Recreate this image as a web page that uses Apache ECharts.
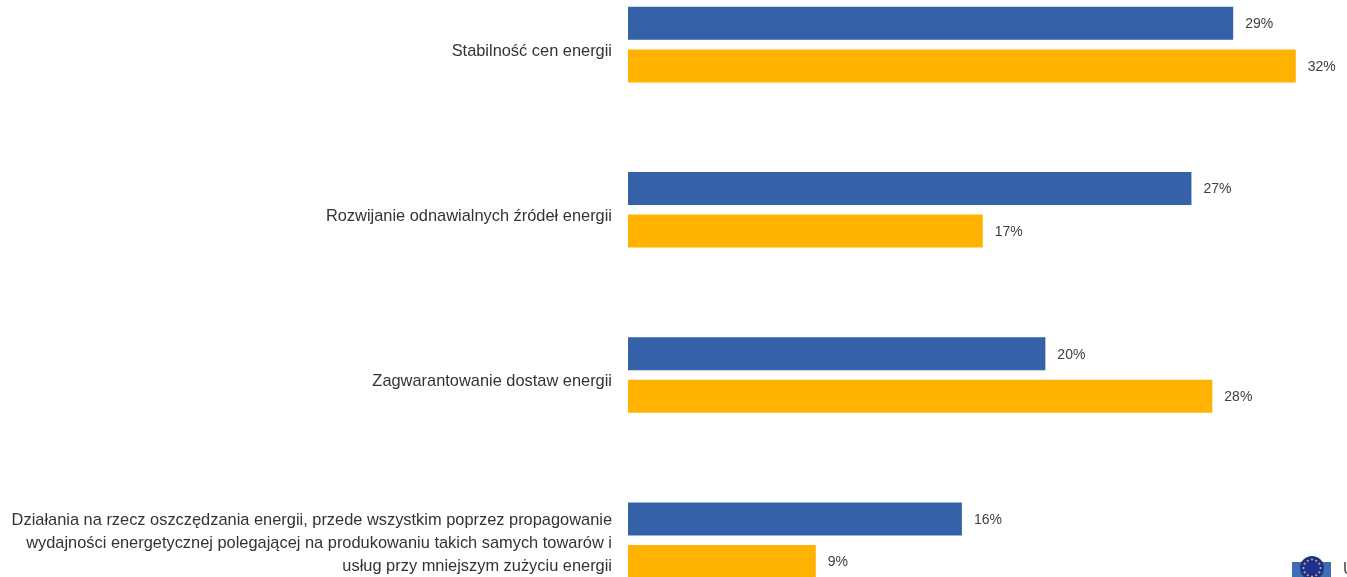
<!DOCTYPE html>
<html>
<head>
<meta charset="utf-8">
<title>Priorytety energetyczne</title>
<script src="https://cdn.jsdelivr.net/npm/echarts@6/dist/echarts.min.js"></script>
<style>
    html, body { margin: 0; padding: 0; background: #fff; overflow: hidden; }
    #chart { width: 1347px; height: 577px; }
</style>
</head>
<body>
<div id="chart"></div>
<script>
//== chart data
var categories = [
    'Stabilność cen energii',
    'Rozwijanie odnawialnych źródeł energii',
    'Zagwarantowanie dostaw energii',
    'Działania na rzecz oszczędzania energii, przede wszystkim poprzez propagowanie\nwydajności energetycznej polegającej na produkowaniu takich samych towarów i\nusług przy mniejszym zużyciu energii'
];
var blueValues = [29, 27, 20, 16];
var orangeValues = [32, 17, 28, 9];

var FONT = '"Liberation Sans", Arial, sans-serif';
var BLUE = '#3561a8';
var ORANGE = '#ffb300';

var chart = echarts.init(document.getElementById('chart'), null, {renderer: 'canvas'});

function richToken(topPad) {
    return {
        color: '#333',
        fontFamily: FONT,
        fontSize: 16.4,
        lineHeight: 23,
        padding: [topPad, 0, 0, 0]
    };
}

// labels sit a bit under the middle of their bar pair, the top padding pushes them down
function categoryLabel(name) {
    var lines = name.split('\n');
    var token = lines.length === 1 ? 'single' : 'multi';
    return lines.map(function (line) {
        return '{' + token + '|' + line + '}';
    }).join('\n');
}

function barSeries(name, values, color) {
    return {
        name: name,
        type: 'bar',
        data: values,
        barWidth: 33,
        barGap: '29%',
        itemStyle: {color: color},
        label: {
            show: true,
            position: 'right',
            distance: 12,
            offset: [0, 1],
            formatter: '{c}%',
            color: '#404040',
            fontFamily: FONT,
            fontSize: 14
        },
        silent: true
    };
}

// EU logo, cut off by the bottom edge
var logo = [
    {type: 'rect', shape: {x: 1292, y: 562, width: 39, height: 20}, style: {fill: '#3f6db5'}},
    {type: 'circle', shape: {cx: 1312, cy: 568, r: 12}, style: {fill: '#1f2f8f'}},
    {type: 'text', x: 1343, y: 562, style: {text: 'U', font: '16px ' + FONT, fill: '#444'}}
];
for (var i = 0; i < 12; i++) {
    var angle = i * Math.PI / 6;
    logo.push({
        type: 'circle',
        shape: {cx: 1312 + 8.5 * Math.cos(angle), cy: 568 + 8.5 * Math.sin(angle), r: 1},
        style: {fill: '#c9c060'}
    });
}

chart.setOption({
    animation: false,
    backgroundColor: '#fff',
    // the picture is cropped: last group runs past the bottom edge
    grid: {left: 628, top: -38, width: 730.4, height: 660.8, outerBoundsMode: 'none'},
    xAxis: {
        type: 'value',
        min: 0,
        max: 35,
        show: false
    },
    yAxis: {
        type: 'category',
        inverse: true,
        data: categories,
        axisLine: {show: false},
        axisTick: {show: false},
        axisLabel: {
            margin: 16,
            align: 'right',
            interval: 0,
            formatter: categoryLabel,
            rich: {
                single: richToken(13),
                multi: richToken(6)
            }
        }
    },
    series: [
        barSeries('Seria 1', blueValues, BLUE),
        barSeries('Seria 2', orangeValues, ORANGE)
    ],
    graphic: logo
});
</script>
</body>
</html>
